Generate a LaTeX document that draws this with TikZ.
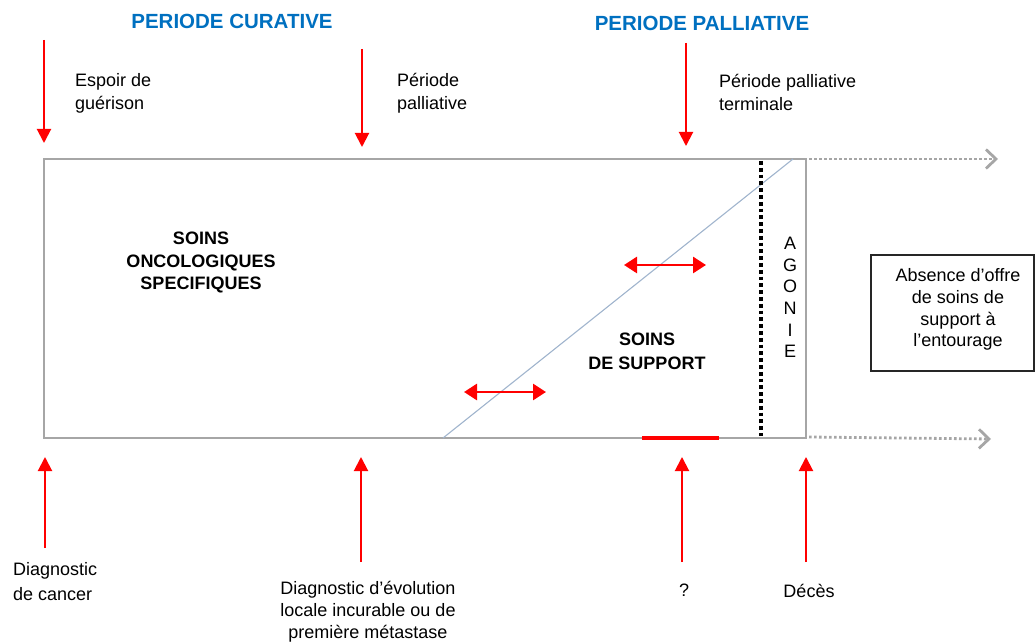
\documentclass[tikz,border=0pt]{standalone}
\usepackage{fontspec}
\setmainfont{Liberation Sans}
\usetikzlibrary{arrows.meta}
\definecolor{titleblue}{HTML}{0070C0}
\definecolor{frame}{HTML}{A6A6A6}
\definecolor{diag}{RGB}{160,180,205}
\newcommand\tp{\rule{0pt}{14pt}}
\tikzset{
  txt/.style={font=\fontsize{18}{23}\selectfont, inner sep=0pt, align=left},
  btxt/.style={font=\bfseries\fontsize{18}{22.5}\selectfont, inner sep=0pt, align=center},
  ttl/.style={font=\bfseries\fontsize{20.5}{24}\selectfont, text=titleblue, inner sep=0pt},
  redarrow/.style={draw=red, line width=2pt, -{Triangle[length=14pt,width=14pt]}},
  dblarrow/.style={draw=red, line width=2.8pt, {Triangle[length=13pt,width=16pt]}-{Triangle[length=13pt,width=16pt]}},
  grayarrow/.style={draw=frame, line width=2.8pt, dash pattern=on 2.6pt off 2.4pt, -{Straight Barb[length=10pt,width=19pt,line width=2.8pt]}},
}
\begin{document}
\begin{tikzpicture}[x=1pt,y=-1pt]
\useasboundingbox (0,0) rectangle (1036,644);
% frame
\coordinate (tl) at (44,159);
\coordinate (br) at (806,438);
\coordinate (tr) at (806,159);
\coordinate (bl) at (44,438);
\draw[frame, line width=2.8pt] (tl) rectangle (br);
% diagonal
\coordinate (d1) at (443,438);
\coordinate (d2) at (793,159);
\draw[diag, line width=1.1pt] (d1) -- (d2);
% dotted agony line
\coordinate (ag1) at (761,161);
\coordinate (ag2) at (761,436);
\draw[black, line width=3.8pt, dash pattern=on 3.8pt off 3pt] (ag1) -- (ag2);
% gray dotted arrows
\coordinate (ta) at (998,159);
\coordinate (ba) at (991,439);
\draw[grayarrow] ([xshift=3pt]tr) -- (ta);
\draw[grayarrow] ([xshift=3pt,yshift=1pt]br) -- (ba);
% red segment
\coordinate (rs1) at (642,438);
\coordinate (rs2) at (719,438);
\draw[red, line width=4.5pt] (rs1) -- (rs2);
% red double arrows
\coordinate (h1a) at (624,265);
\coordinate (h1b) at (706,265);
\coordinate (h2a) at (464,392);
\coordinate (h2b) at (546,392);
\draw[dblarrow] (h1a) -- (h1b);
\draw[dblarrow] (h2a) -- (h2b);
% titles
\node[ttl] (t1) at (232,21) {PERIODE CURATIVE};
\node[ttl] (t2) at (702,23) {PERIODE PALLIATIVE};
% top arrows
\coordinate (a1s) at (44,40);   \coordinate (a1e) at (44,143);
\coordinate (a2s) at (362,49);  \coordinate (a2e) at (362,147);
\coordinate (a3s) at (686,43);  \coordinate (a3e) at (686,146);
\draw[redarrow] (a1s) -- (a1e);
\draw[redarrow] (a2s) -- (a2e);
\draw[redarrow] (a3s) -- (a3e);
% bottom arrows
\coordinate (b1s) at (45,548);  \coordinate (b1e) at (45,457);
\coordinate (b2s) at (361,562); \coordinate (b2e) at (361,457);
\coordinate (b3s) at (682,562); \coordinate (b3e) at (682,457);
\coordinate (b4s) at (806,562); \coordinate (b4e) at (806,457);
\draw[redarrow] (b1s) -- (b1e);
\draw[redarrow] (b2s) -- (b2e);
\draw[redarrow] (b3s) -- (b3e);
\draw[redarrow] (b4s) -- (b4e);
% top texts
\node[txt, anchor=north west] (esp) at (75,72.5) {\tp Espoir de\\guérison};
\node[txt, anchor=north west] (pp) at (397,72.5) {\tp Période\\palliative};
\node[txt, anchor=north west] (ppt) at (719,73) {\tp Période palliative\\terminale};
% bottom texts
\node[txt, anchor=north west, font=\fontsize{18}{25}\selectfont] (dc) at (13,561.5) {\tp Diagnostic\\de cancer};
\node[txt, anchor=north, align=center, font=\fontsize{18}{22}\selectfont] (de) at (368,580.5) {\tp Diagnostic d’évolution\\locale incurable ou de\\première métastase};
\node[txt] (q) at (684,590) {?};
\node[txt] (dec) at (809,591) {Décès};
% inside texts
\node[btxt, anchor=north] (soc) at (201,230.5) {\tp SOINS\\ONCOLOGIQUES\\SPECIFIQUES};
\node[btxt, anchor=north, font=\bfseries\fontsize{18}{24}\selectfont] (ss) at (647,331.5) {\tp SOINS\\DE SUPPORT};
\node[txt, anchor=north, align=center, font=\fontsize{18}{21.6}\selectfont] (agonie) at (790,235.5) {\tp A\\G\\O\\N\\I\\E};
% box
\node[draw=black!85, line width=1.3pt, minimum width=163pt, minimum height=116pt, inner sep=0pt] (box) at (952.5,313) {};
\node[txt, anchor=north, align=center, font=\fontsize{18}{21.7}\selectfont] (boxt) at (958,267.5) {\tp Absence d’offre\\de soins de\\support à\\l’entourage};
\end{tikzpicture}
\end{document}
